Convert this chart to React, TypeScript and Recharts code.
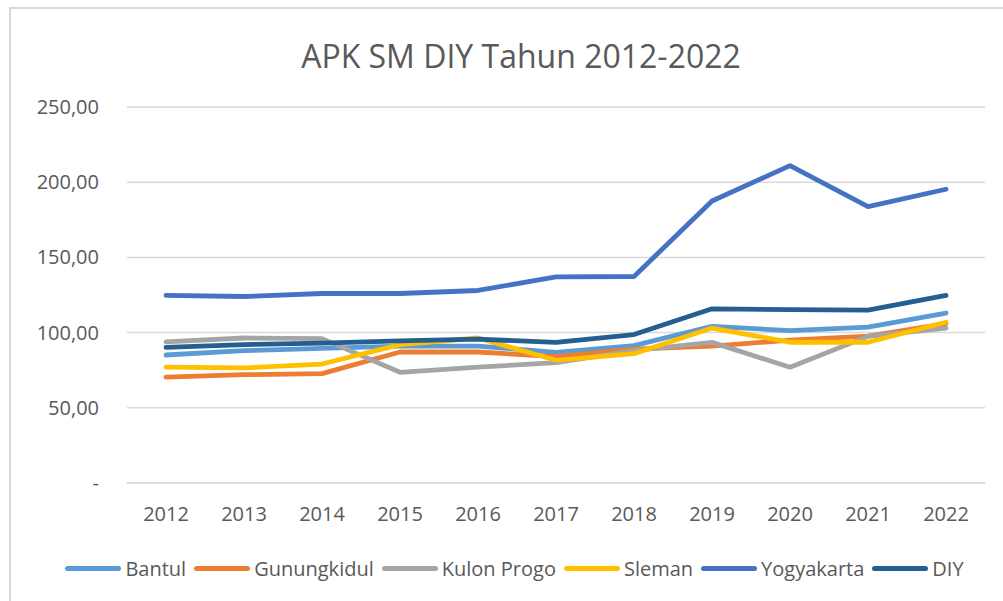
import { LineChart, Line, XAxis, YAxis, CartesianGrid, Legend } from 'recharts'

const years = ['2012', '2013', '2014', '2015', '2016', '2017', '2018', '2019', '2020', '2021', '2022']

const bantul = [85.1, 88.0, 89.5, 91.0, 91.0, 86.9, 91.3, 104.2, 101.3, 103.6, 113.0]
const gunungkidul = [70.4, 72.0, 72.7, 87.1, 87.1, 84.0, 89.0, 91.0, 95.0, 97.6, 106.0]
const kulonProgo = [93.8, 96.4, 96.0, 73.6, 77.0, 80.0, 88.0, 93.5, 77.0, 97.5, 103.0]
const sleman = [77.1, 76.5, 79.1, 92.0, 96.4, 81.6, 86.0, 103.0, 93.6, 93.6, 106.9]
const yogyakarta = [124.7, 124.0, 126.0, 126.0, 128.0, 137.0, 137.3, 187.5, 211.0, 183.8, 195.3]
const diy = [90.2, 92.0, 93.0, 94.5, 95.6, 93.5, 98.7, 115.8, 115.3, 114.9, 124.7]

const yTicks = [0, 50, 100, 150, 200, 250]

const series = [
  { key: 'bantul', name: 'Bantul', color: '#5B9BD5', values: bantul },
  { key: 'gunungkidul', name: 'Gunungkidul', color: '#ED7D31', values: gunungkidul },
  { key: 'kulonProgo', name: 'Kulon Progo', color: '#A5A5A5', values: kulonProgo },
  { key: 'sleman', name: 'Sleman', color: '#FFC000', values: sleman },
  { key: 'yogyakarta', name: 'Yogyakarta', color: '#4472C4', values: yogyakarta },
  { key: 'diy', name: 'DIY', color: '#255E91', values: diy },
]

const data = years.map((year, i) => {
  const row: Record<string, string | number> = { year }
  series.forEach((s) => {
    row[s.key] = s.values[i]
  })
  return row
})

const FONT = '"Open Sans", sans-serif'
const TEXT = '#595959'

function formatY(v: number) {
  if (v === 0) return '-'
  return v.toFixed(2).replace('.', ',')
}

function XTick({ x, y, payload }: any) {
  return (
    <text x={x} y={y} dy={30} textAnchor="middle" fill={TEXT} fontSize={20} fontFamily={FONT}>
      {payload.value}
    </text>
  )
}

function YTick({ x, y, payload }: any) {
  return (
    <text x={x - 20} y={y} dy={7} textAnchor="end" fill={TEXT} fontSize={20} fontFamily={FONT}>
      {formatY(payload.value)}
    </text>
  )
}

// keep legend in series order (recharts sorts payload by name otherwise)
function LegendContent() {
  return (
    <div
      style={{
        display: 'flex',
        justifyContent: 'center',
        alignItems: 'center',
        height: 30,
        fontFamily: FONT,
        fontSize: 20,
        color: TEXT,
      }}
    >
      {series.map((s, i) => (
        <span
          key={s.key}
          style={{ display: 'flex', alignItems: 'center', marginLeft: i === 0 ? 0 : 8 }}
        >
          <span
            style={{
              display: 'inline-block',
              width: 56,
              height: 5,
              borderRadius: 3,
              background: s.color,
              marginRight: 4,
            }}
          />
          {s.name}
        </span>
      ))}
    </div>
  )
}

export default function App() {
  return (
    <div style={{ position: 'fixed', left: 0, top: 0, width: 1003, height: 601, background: '#fff', overflow: 'hidden' }}>
      <div
        style={{
          position: 'absolute',
          left: 9,
          top: 7,
          width: 1100,
          height: 700,
          borderLeft: '2px solid #D9D9D9',
          borderTop: '2px solid #D9D9D9',
        }}
      />
      <div
        style={{
          position: 'absolute',
          left: 0,
          width: 1042,
          top: 34,
          textAlign: 'center',
          fontFamily: FONT,
          fontSize: 32,
          lineHeight: '44px',
          color: TEXT,
          whiteSpace: 'nowrap',
        }}
      >
        APK SM DIY Tahun 2012-2022
      </div>
      <div style={{ position: 'absolute', left: 0, top: 0 }}>
        <LineChart width={1003} height={601} data={data} margin={{ top: 107, right: 18, left: 0, bottom: 0 }}>
          <CartesianGrid vertical={false} stroke="#D9D9D9" strokeWidth={1.5} />
          <XAxis
            dataKey="year"
            axisLine={{ stroke: '#D9D9D9', strokeWidth: 1.5 }}
            tickLine={false}
            tick={<XTick />}
            height={88}
            padding={{ left: 39, right: 39 }}
            interval={0}
          />
          <YAxis
            domain={[0, 250]}
            ticks={yTicks}
            axisLine={false}
            tickLine={false}
            tick={<YTick />}
            width={127}
          />
          <Legend
            content={<LegendContent />}
            verticalAlign="bottom"
            wrapperStyle={{ left: 13, width: 1003, top: 553, bottom: 'auto' }}
          />
          {series.map((s) => (
            <Line
              key={s.key}
              dataKey={s.key}
              name={s.name}
              stroke={s.color}
              strokeWidth={4.8}
              strokeLinecap="round"
              strokeLinejoin="round"
              dot={false}
              isAnimationActive={false}
            />
          ))}
        </LineChart>
      </div>
    </div>
  )
}
